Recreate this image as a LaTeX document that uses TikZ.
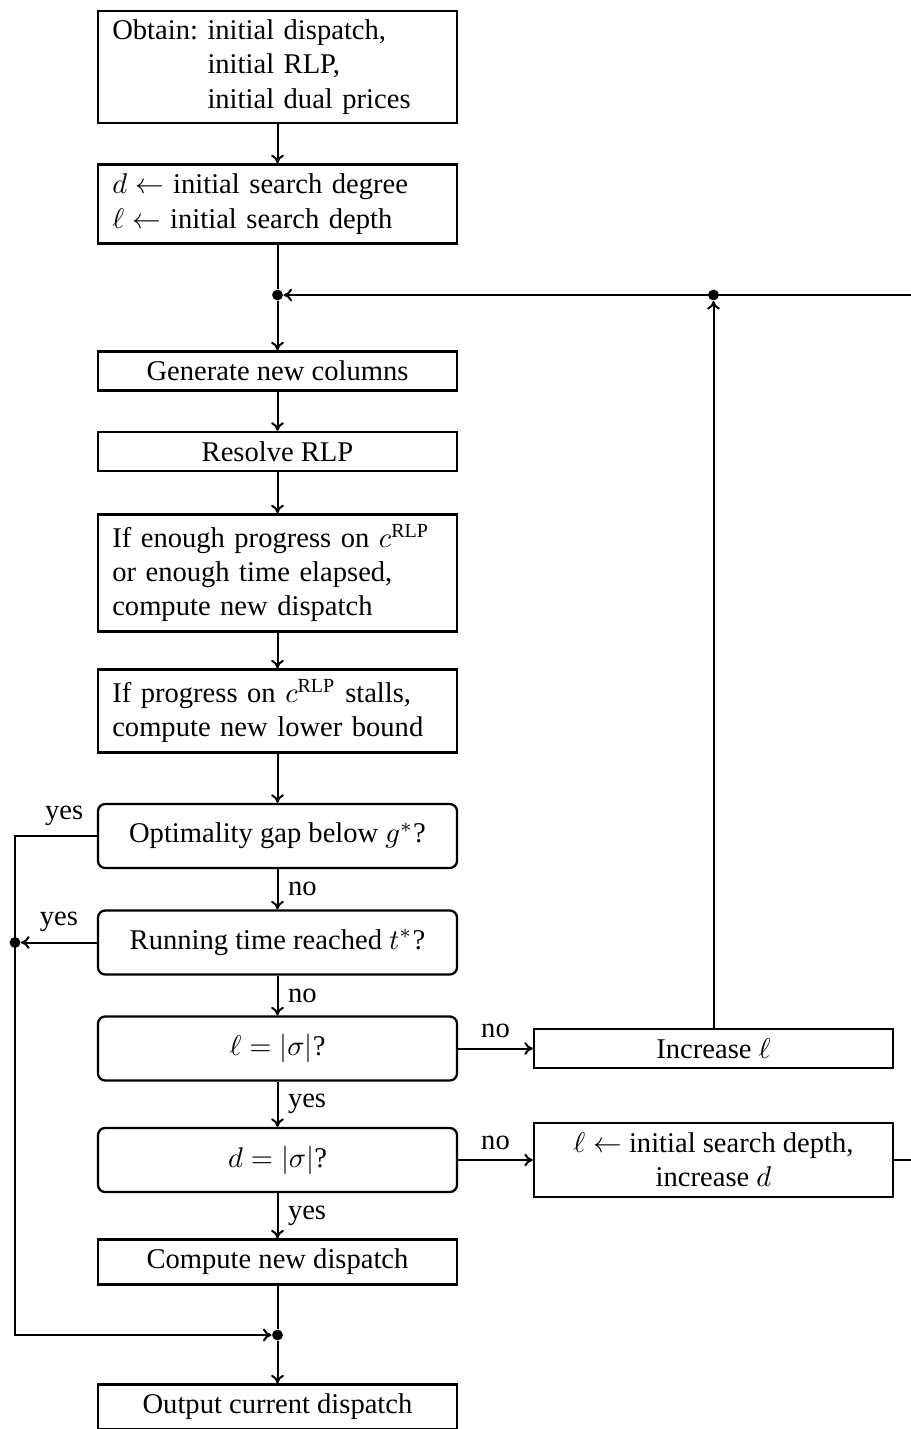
\documentclass[tikz,border=0pt]{standalone}
\usepackage{fontspec}
\setmainfont{Liberation Serif}
\usetikzlibrary{arrows.meta}
\tikzset{
  box/.style={draw, line width=0.8pt, minimum width=125.65pt},
  leftbox/.style={box, text width=115.65pt, inner xsep=5pt, align=left},
  decision/.style={box, rounded corners=2.5pt, minimum height=22.4pt},
  dot/.style={circle, fill, inner sep=0pt, minimum size=3.8pt},
  flow/.style={line width=0.7pt, -{To[length=3pt, width=4.5pt]}},
  plain/.style={line width=0.7pt},
}
\begin{document}
\begin{tikzpicture}[x=0.35pt, y=-0.35pt]
\useasboundingbox (0,0) rectangle (911,1429);
% main column
\node[leftbox, inner ysep=1.6pt] (obtain) at (277.5,67) {\begin{tabular}{@{}l@{\ }l}Obtain: & initial dispatch,\\ & initial RLP,\\ & initial dual prices\end{tabular}};
\node[leftbox] (init) at (277.5,204) {$d \leftarrow$ initial search degree\\ $\ell \leftarrow$ initial search depth};
\node[dot] (topjoin) at (277.5,295) {};
\node[box] (gen) at (277.5,371) {Generate new columns};
\node[box] (resolve) at (277.5,451.5) {Resolve RLP};
\node[leftbox] (enough) at (277.5,573) {If enough progress on $c^{\mathrm{RLP}}$\\ or enough time elapsed,\\ compute new dispatch};
\node[leftbox] (stalls) at (277.5,711) {If progress on $c^{\mathrm{RLP}}$ stalls,\\ compute new lower bound};
\node[decision] (gap) at (277.5,836) {Optimality gap below $g^*$?};
\node[decision] (running) at (277.5,942.5) {Running time reached $t^*$?};
\node[decision] (lsig) at (277.5,1048.5) {$\ell = |\sigma|$?};
\node[decision] (dsig) at (277.5,1160) {$d = |\sigma|$?};
\node[box] (compute) at (277.5,1262) {Compute new dispatch};
\node[dot] (botjoin) at (277.5,1335) {};
\node[box] (output) at (277.5,1407) {Output current dispatch};
% right column
\node[box] (lincr) at (713.5,1048.5) {Increase $\ell$};
\node[box, align=center] (dincr) at (713.5,1160) {$\ell \leftarrow$ initial search depth,\\ increase $d$};
\node[dot] (rjoin) at (713.5,295) {};
\node[dot] (ljoin) at (15,942.5) {};
\coordinate (rturn) at (918,295);
% connectors
\draw[flow] (obtain) -- (init);
\draw[plain] (init) -- (topjoin);
\draw[flow] (topjoin) -- (gen);
\draw[flow] (gen) -- (resolve);
\draw[flow] (resolve) -- (enough);
\draw[flow] (enough) -- (stalls);
\draw[flow] (stalls) -- (gap);
\draw[flow] (gap) -- node[right] {no} (running);
\draw[flow] (running) -- node[right] {no} (lsig);
\draw[flow] (lsig) -- node[right] {yes} (dsig);
\draw[flow] (dsig) -- node[right] {yes} (compute);
\draw[plain] (compute) -- (botjoin);
\draw[flow] (botjoin) -- (output);
\draw[flow] (gap.west) -- node[above, pos=0.4] {yes} (gap.west -| ljoin) -- (botjoin -| ljoin) -- (botjoin);
\draw[flow] (running) -- node[above] {yes} (ljoin);
\draw[flow] (lsig) -- node[above] {no} (lincr);
\draw[flow] (dsig) -- node[above] {no} (dincr);
\draw[flow] (lincr) -- (rjoin);
\draw[flow] (dincr.east) -- (dincr.east -| rturn) -- (rturn) -- (topjoin);
\end{tikzpicture}
\end{document}
